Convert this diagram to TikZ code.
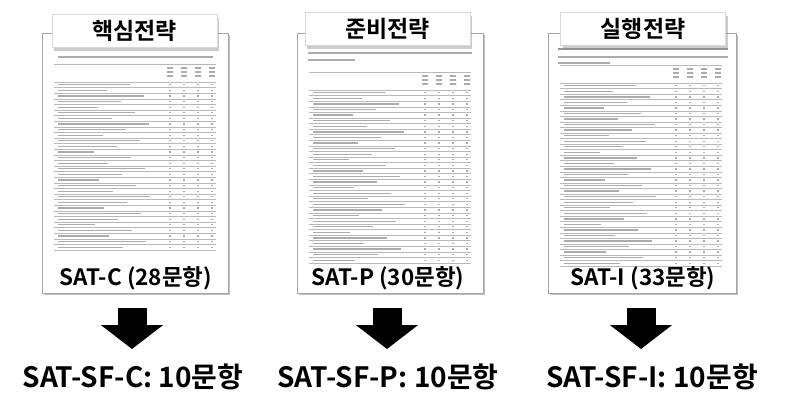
\documentclass[tikz,border=0pt]{standalone}
\usepackage{fontspec}
\newfontfamily\krfont[BoldFont={* Bold}]{Noto Sans CJK KR}
\usetikzlibrary{arrows.meta,shadows}

\tikzset{
	page/.style={draw=gray!70,line width=0.8pt,fill=white,anchor=north west,inner sep=0pt,
		drop shadow={shadow xshift=1.5pt,shadow yshift=-1.5pt,opacity=0.5}},
	tab/.style={draw=gray!30,line width=1pt,fill=white,minimum width=165pt,minimum height=33pt,
		drop shadow={shadow xshift=2pt,shadow yshift=-3pt,opacity=0.4},
		font=\krfont\bfseries\fontsize{23}{26}\selectfont},
	form/.style={anchor=base,inner sep=0pt,font=\krfont\bfseries\fontsize{22.5}{26}\selectfont},
	short/.style={anchor=base,inner sep=0pt,font=\krfont\bfseries\fontsize{28}{32}\selectfont},
	txt/.style={gray!65,line width=1.3pt,dash pattern=on 2.5pt off 0.5pt},
	rule/.style={gray!55,line width=0.45pt},
	blockarrow/.style={line width=29pt,-{Triangle[length=24pt,width=61pt]}}
}

\begin{document}
\begin{tikzpicture}[x=1pt,y=-1pt]
	\useasboundingbox (0,0) rectangle (790,413);
	% survey pages
	\node[page,minimum width=186pt,minimum height=260pt] (page1) at (42,33) {};
	\node[page,minimum width=186pt,minimum height=260pt] (page2) at (297,33) {};
	\node[page,minimum width=188pt,minimum height=260pt] (page3) at (548,33) {};
	% instructions on top of each page
	\draw[txt] (58,57) -- (213,57);
	\draw[txt] (308,53) -- (472,53);
	\draw[txt] (308,60) -- (355,60);
	\draw[txt,gray!80] (558,49) -- (728,49);
	\draw[txt] (558,57) -- (728,57);
	\draw[txt] (558,63) -- (610,63);
	% item tables
	\foreach \x/\ty/\by/\n in {42/82/250/30,297/90/263/31,548/83/266/33}{
		\draw[rule] (\x+12,\ty-18) -- (\x+174,\ty-18);
		\draw[rule] (\x+12,\ty) -- (\x+174,\ty);
		\foreach \c in {128,142,156,170}
			\foreach \r in {-14,-10,-6}
				\draw[txt] (\x+\c-3,\ty+\r) -- (\x+\c+3,\ty+\r);
		\foreach \k in {1,...,\n}{
			\pgfmathsetmacro\yk{\ty+(\k-0.5)*(\by-\ty)/\n}
			\pgfmathsetmacro\ys{\ty+\k*(\by-\ty)/\n}
			\pgfmathsetmacro\len{35+mod(\k*37,60)}
			\draw[txt] (\x+16,\yk) -- (\x+16+\len,\yk);
			\foreach \c in {128,142,156,170}
				\draw[txt] (\x+\c-1,\yk) -- (\x+\c+1,\yk);
			\draw[rule] (\x+12,\ys) -- (\x+174,\ys);
		}
	}
	% title tabs
	\node[tab] (tab1) at (134.5,31) {핵심전략};
	\node[tab] (tab2) at (387.5,29) {준비전략};
	\node[tab] (tab3) at (643,29) {실행전략};
	% full scales
	\node[form] (sat1) at (136,285) {SAT-C (28문항)};
	\node[form] (sat2) at (388,285) {SAT-P (30문항)};
	\node[form] (sat3) at (643,285) {SAT-I (33문항)};
	% short forms
	\node[short] (sf1) at (133,387) {SAT-SF-C: 10문항};
	\node[short] (sf2) at (388,387) {SAT-SF-P: 10문항};
	\node[short] (sf3) at (652,387) {SAT-SF-I: 10문항};
	\foreach \i/\ax in {1/132,2/387,3/641}{
		\coordinate (from\i) at (\ax,308);
		\coordinate (to\i) at (\ax,349);
		\draw[blockarrow] (from\i) -- (to\i);
	}
\end{tikzpicture}
\end{document}
